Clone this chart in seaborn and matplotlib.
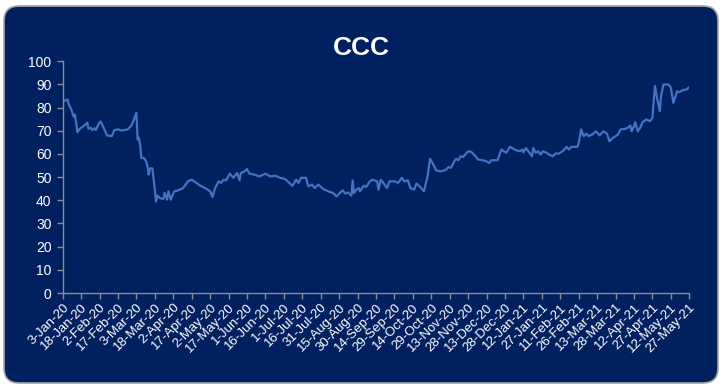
import pandas as pd
import seaborn as sns
import matplotlib.pyplot as plt
import matplotlib.dates as mdates
from matplotlib.patches import FancyBboxPatch
from matplotlib.transforms import IdentityTransform

# values
start_date = "2020-01-03"
day_offset = [
    0, 2, 4, 5, 7, 9, 10, 12, 14, 17, 20, 21, 23, 24, 26, 27, 30, 31, 34, 36,
    40, 42, 45, 48, 53, 56, 58, 60, 61, 62, 63, 64, 66, 68, 69, 70, 71, 73, 75, 76,
    77, 79, 82, 83, 85, 86, 88, 89, 91, 94, 98, 102, 105, 109, 112, 116, 120, 122, 124, 127,
    129, 131, 133, 136, 139, 142, 144, 145, 148, 150, 152, 156, 160, 165, 169, 173, 177, 181, 184, 187,
    190, 192, 194, 198, 200, 203, 205, 208, 212, 216, 220, 223, 226, 228, 230, 232, 235, 236, 237, 239,
    241, 242, 245, 247, 250, 252, 254, 256, 257, 259, 262, 264, 266, 270, 273, 276, 278, 281, 283, 286,
    288, 291, 294, 297, 299, 301, 304, 308, 312, 314, 316, 318, 320, 322, 324, 326, 329, 331, 333, 336,
    338, 342, 345, 347, 349, 354, 357, 359, 361, 364, 367, 369, 372, 374, 375, 377, 379, 382, 383, 385,
    387, 389, 391, 394, 396, 399, 401, 404, 407, 410, 412, 414, 419, 420, 422, 424, 426, 428, 431, 434,
    437, 440, 443, 445, 448, 452, 454, 458, 460, 462, 463, 465, 466, 468, 470, 472, 475, 478, 480, 482,
    484, 486, 487, 489, 493, 495, 497, 499, 500, 502, 505, 508, 510,
]
ccc_value = [
    82.5, 83.0, 83.5, 81.4, 79.2, 76.1, 77.0, 69.4, 70.9, 72.0, 73.5, 70.9, 71.3, 70.3, 71.1, 70.3, 73.7, 74.0, 70.6, 68.0,
    67.7, 70.3, 70.6, 70.1, 70.6, 72.3, 74.9, 77.8, 66.2, 67.0, 64.1, 58.3, 58.3, 56.8, 54.7, 51.1, 53.8, 53.8, 44.6, 39.5,
    42.0, 41.0, 40.6, 43.2, 40.3, 43.9, 40.3, 41.7, 43.9, 44.3, 45.3, 48.2, 48.9, 47.5, 46.3, 45.3, 43.9, 41.4, 45.3, 48.2,
    47.5, 48.9, 48.6, 51.5, 49.7, 51.8, 48.6, 51.8, 52.5, 53.5, 51.5, 51.1, 50.3, 51.5, 50.3, 50.6, 49.7, 49.2, 47.7, 46.3,
    48.9, 47.5, 49.7, 49.7, 46.0, 46.8, 45.3, 46.8, 44.9, 43.9, 43.2, 41.7, 43.4, 44.3, 42.9, 43.4, 42.0, 48.6, 43.2, 44.6,
    45.3, 43.9, 46.3, 45.8, 48.2, 48.9, 48.6, 48.2, 44.6, 48.9, 46.8, 45.3, 48.2, 48.2, 47.5, 49.7, 48.2, 48.6, 45.3, 44.6,
    47.2, 45.8, 43.9, 50.3, 57.9, 56.1, 52.9, 52.5, 53.2, 54.4, 54.0, 56.1, 57.9, 57.3, 59.0, 58.7, 60.7, 61.2, 60.7, 59.0,
    57.6, 57.3, 56.8, 56.1, 57.3, 57.3, 61.9, 61.2, 60.5, 63.1, 62.2, 61.6, 61.2, 61.9, 60.7, 62.6, 61.2, 59.0, 62.6, 60.5,
    61.2, 59.7, 61.2, 60.5, 59.7, 59.0, 60.2, 60.2, 61.2, 63.1, 61.9, 63.1, 63.1, 64.8, 70.6, 67.7, 68.8, 67.7, 68.4, 69.8,
    68.0, 69.8, 68.8, 65.5, 67.0, 68.4, 70.6, 70.9, 71.3, 72.3, 69.8, 72.0, 73.7, 69.8, 71.3, 73.7, 74.9, 74.2, 75.6, 89.3,
    83.5, 78.5, 85.0, 90.0, 90.0, 88.6, 82.1, 85.3, 87.1, 86.7, 87.6, 87.9, 89.0,
]
y_ticks = list(range(0, 101, 10))

bg = "#002060"
line_color = "#4472C4"
axis_gray = "#8C8C8C"

df = pd.DataFrame({
    "date": pd.to_datetime(start_date) + pd.to_timedelta(day_offset, unit="D"),
    "value": ccc_value,
})

sns.set_style("white")
plt.rcParams["font.family"] = ["Liberation Sans", "DejaVu Sans"]

fig = plt.figure(figsize=(7.22, 3.86), dpi=100, facecolor="white")

# rounded dark panel behind the chart (pixel coords)
panel = FancyBboxPatch((4, 3), 714, 377,
                       boxstyle="round,pad=0,rounding_size=15",
                       transform=IdentityTransform(), facecolor=bg,
                       edgecolor="#A6A6A6", linewidth=1.2, zorder=-10)
fig.patches.append(panel)

ax = fig.add_axes([0.0868, 0.2409, 0.8679, 0.6003])
ax.set_zorder(1)
ax.set_facecolor(bg)
ax.patch.set_alpha(0)

sns.lineplot(data=df, x="date", y="value", ax=ax, color=line_color, linewidth=1.6)

ax.set_ylim(0, 100)
ax.set_yticks(y_ticks)
ax.set_xlim(pd.Timestamp("2020-01-03"), pd.Timestamp("2021-05-27"))
ax.set_xticks(pd.date_range("2020-01-03", "2021-05-27", freq="15D"))
ax.xaxis.set_major_formatter(mdates.DateFormatter("%-d-%b-%y"))

for side in ["top", "right"]:
    ax.spines[side].set_visible(False)
for side in ["left", "bottom"]:
    ax.spines[side].set_color(axis_gray)
    ax.spines[side].set_linewidth(1)

ax.tick_params(axis="both", direction="out", length=4, width=1, color=axis_gray,
               labelcolor="white", bottom=True, left=True)
ax.tick_params(axis="y", pad=4, labelsize=10)
ax.tick_params(axis="x", pad=2, labelsize=9.5)
plt.setp(ax.get_xticklabels(), rotation=45, ha="right", rotation_mode="anchor")

ax.set_xlabel("")
ax.set_ylabel("")
fig.text(0.5, 0.875, "CCC", ha="center", va="center", color="white",
         fontsize=19, fontweight="bold", zorder=2)

fig.savefig("out.png", dpi=100, facecolor="white")
